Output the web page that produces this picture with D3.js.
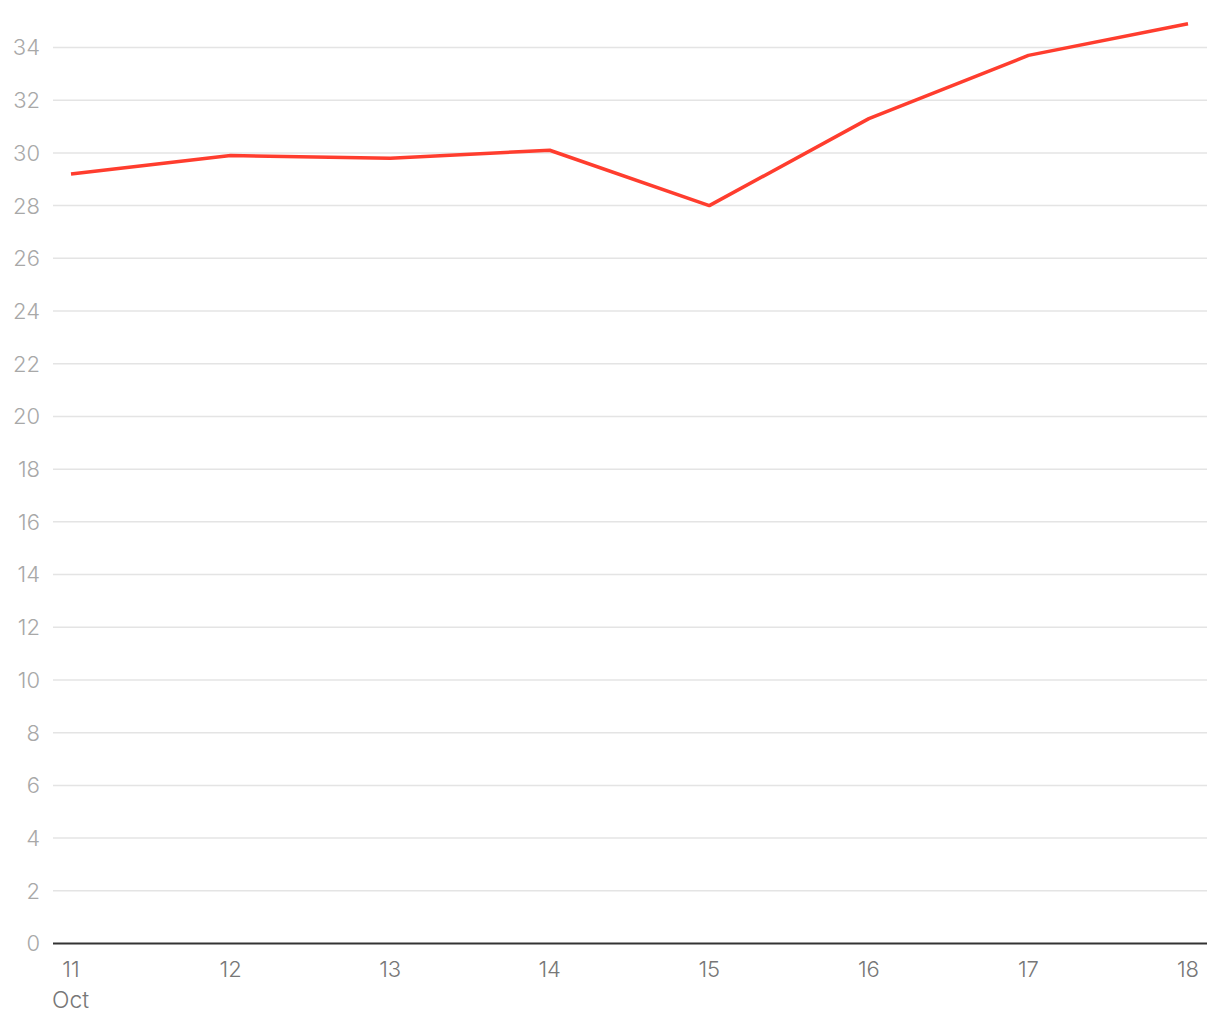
<html>
<head>
<style>
body { margin: 0; background: #fff; font-family: 'Inter', 'Roboto', sans-serif; }
svg { display: block; }
</style>
</head>
<body>
<svg width="1220" height="1020"></svg>
<script src="https://cdn.jsdelivr.net/npm/d3@7"></script>
<script>
// data (October, days 11-18)
const days = [11, 12, 13, 14, 15, 16, 17, 18];
const values = [29.2, 29.9, 29.8, 30.1, 28.0, 31.3, 33.7, 34.9];
const yTicks = [0, 2, 4, 6, 8, 10, 12, 14, 16, 18, 20, 22, 24, 26, 28, 30, 32, 34];

const svg = d3.select("svg");
const left = 53, right = 1207, bottom = 943.5;

const dates = days.map(d => new Date(2023, 9, d));
const x = d3.scaleTime()
	.domain(d3.extent(dates))
	.range([71, 1188]);
const y = d3.scaleLinear()
	.domain([0, 34])
	.range([bottom, 47.5]);

// grid lines
svg.append("g")
	.selectAll("line")
	.data(yTicks.filter(t => t > 0))
	.join("line")
	.attr("x1", left).attr("x2", right)
	.attr("y1", d => y(d)).attr("y2", d => y(d))
	.attr("stroke", "#e4e4e4")
	.attr("stroke-width", 1.5);

// y labels
svg.append("g")
	.selectAll("text")
	.data(yTicks)
	.join("text")
	.attr("x", 40)
	.attr("y", d => y(d))
	.attr("dy", "0.36em")
	.attr("text-anchor", "end")
	.attr("fill", "#a8a8a8")
	.attr("font-size", 22)
	.attr("font-weight", 300)
	.text(d => d);

// baseline
svg.append("line")
	.attr("x1", left).attr("x2", right)
	.attr("y1", bottom).attr("y2", bottom)
	.attr("stroke", "#333")
	.attr("stroke-width", 2);

// x labels
svg.append("g")
	.selectAll("text")
	.data(dates)
	.join("text")
	.attr("x", d => x(d))
	.attr("y", 977)
	.attr("text-anchor", "middle")
	.attr("fill", "#777")
	.attr("font-size", 22)
	.attr("font-weight", 300)
	.text(d => d3.timeFormat("%-d")(d));

svg.append("text")
	.attr("x", 52)
	.attr("y", 1008)
	.attr("fill", "#777")
	.attr("font-size", 23)
	.attr("font-weight", 300)
	.text("Oct");

// the line
const line = d3.line()
	.x((d, i) => x(dates[i]))
	.y(d => y(d));

svg.append("path")
	.datum(values)
	.attr("d", line)
	.attr("fill", "none")
	.attr("stroke", "#ff3d2e")
	.attr("stroke-width", 3.5)
	.attr("stroke-linejoin", "round");
</script>
</body>
</html>
